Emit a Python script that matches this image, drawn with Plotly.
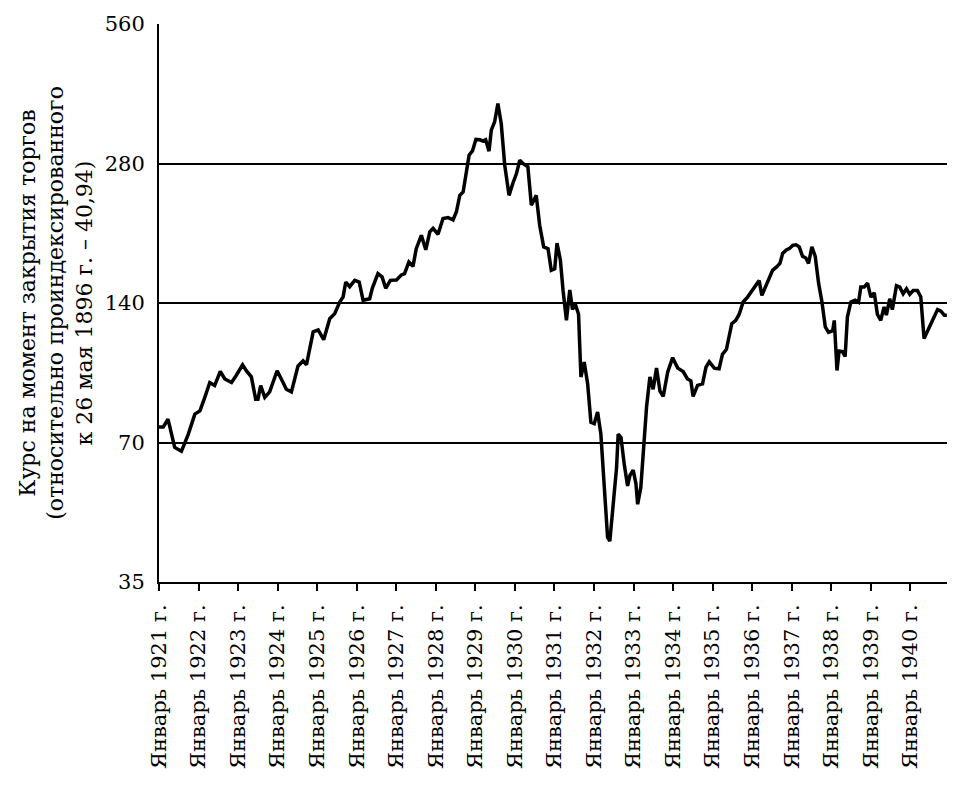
import math
import plotly.graph_objects as go

dates = [
    "1921-01-01", "1921-02-10", "1921-03-25", "1921-05-26", "1921-07-27", "1921-09-28", "1921-11-28",
    "1922-01-14", "1922-02-28", "1922-04-15", "1922-05-30", "1922-07-21", "1922-09-01", "1922-11-02", "1922-12-12",
    "1923-02-12", "1923-03-18", "1923-05-04", "1923-06-13", "1923-07-04", "1923-07-29", "1923-09-05", "1923-10-20", "1923-12-28",
    "1924-02-21", "1924-03-22", "1924-05-08", "1924-07-08", "1924-08-24", "1924-09-24", "1924-11-25",
    "1925-01-10", "1925-03-02", "1925-04-27", "1925-06-12", "1925-07-28", "1925-08-28", "1925-09-22", "1925-10-28", "1925-12-14",
    "1926-01-24", "1926-03-01", "1926-05-01", "1926-05-25", "1926-07-16", "1926-08-23", "1926-09-26", "1926-11-08",
    "1927-01-03", "1927-02-18", "1927-03-19", "1927-04-28", "1927-06-05", "1927-07-05", "1927-08-21", "1927-10-01", "1927-11-07", "1927-12-07",
    "1928-01-22", "1928-03-08", "1928-04-24", "1928-06-09", "1928-07-10", "1928-08-10", "1928-09-10", "1928-10-04", "1928-11-04", "1928-12-05",
    "1929-01-06", "1929-02-12", "1929-03-12", "1929-04-06", "1929-05-07", "1929-05-28", "1929-06-28", "1929-07-28", "1929-08-28", "1929-09-29", "1929-11-08", "1929-12-15",
    "1930-01-15", "1930-02-15", "1930-03-16", "1930-05-01", "1930-06-02", "1930-07-17", "1930-08-18", "1930-09-24", "1930-11-03", "1930-12-03",
    "1931-01-04", "1931-01-25", "1931-02-25", "1931-03-22", "1931-04-22", "1931-05-23", "1931-06-17", "1931-07-11", "1931-08-12", "1931-09-03", "1931-10-03", "1931-11-04", "1931-12-04",
    "1932-01-04", "1932-02-04", "1932-03-05", "1932-04-05", "1932-05-06", "1932-05-27", "1932-06-27", "1932-07-28", "1932-08-12", "1932-09-07", "1932-10-07", "1932-11-07", "1932-11-29", "1932-12-29",
    "1933-01-23", "1933-02-08", "1933-03-09", "1933-04-09", "1933-05-01", "1933-06-01", "1933-07-01", "1933-08-01", "1933-09-02", "1933-10-02", "1933-11-12", "1933-12-28",
    "1934-02-13", "1934-04-04", "1934-05-14", "1934-06-14", "1934-07-05", "1934-08-15", "1934-09-30", "1934-11-01", "1934-12-01",
    "1935-01-17", "1935-03-02", "1935-04-02", "1935-05-09", "1935-06-27", "1935-08-03", "1935-09-04", "1935-10-10", "1935-11-20", "1935-12-20",
    "1936-01-21", "1936-02-21", "1936-03-06", "1936-03-31", "1936-05-07", "1936-06-07", "1936-07-08", "1936-08-14", "1936-09-14", "1936-10-09", "1936-11-09", "1936-12-09",
    "1937-01-10", "1937-02-10", "1937-03-11", "1937-04-11", "1937-05-11", "1937-06-05", "1937-07-06", "1937-08-06", "1937-09-06", "1937-10-07", "1937-11-07", "1937-12-07",
    "1938-01-14", "1938-01-29", "1938-02-23", "1938-03-14", "1938-04-14", "1938-05-09", "1938-05-30", "1938-07-01", "1938-08-10", "1938-09-10", "1938-10-01", "1938-11-01", "1938-12-02",
    "1939-01-02", "1939-02-02", "1939-03-03", "1939-04-03", "1939-05-04", "1939-05-25", "1939-06-25", "1939-07-19", "1939-08-26", "1939-09-26", "1939-10-27", "1939-11-27", "1939-12-27",
    "1940-01-28", "1940-03-07", "1940-04-07", "1940-05-07", "1940-06-08", "1940-07-09", "1940-08-09", "1940-09-09", "1940-10-10", "1940-11-10", "1940-12-04",
]

values = [
    75.6, 75.6, 78.6, 68.3, 67.0, 72.9, 80.6,
    81.9, 87.6, 94.3, 92.9, 99.6, 96.0, 94.3, 97.4,
    103.0, 100.0, 97.0, 86.8, 86.8, 92.9, 87.6, 90.0, 100.0,
    94.3, 91.2, 90.0, 102.4, 105.0, 103.0, 121.3,
    122.5, 116.7, 129.5, 132.8, 140.7, 144.2, 155.4, 151.8, 156.7,
    155.4, 141.9, 143.0, 150.6, 162.0, 159.4, 150.6, 156.7,
    157.0, 161.0, 162.0, 171.7, 168.0, 183.4, 195.9, 182.4, 199.4, 202.8,
    197.0, 213.0, 214.0, 211.6, 220.3, 239.0, 243.0, 262.0, 291.8, 298.0,
    315.6, 315.0, 313.0, 315.0, 297.7, 330.4, 344.5, 377.0, 341.0, 278.0, 239.0, 254.5,
    266.0, 284.6, 280.0, 275.5, 227.6, 239.0, 206.0, 185.0, 183.4, 164.7,
    166.0, 188.5, 173.4, 149.0, 128.4, 149.3, 135.5, 139.7, 132.4, 96.9, 104.4, 93.7, 77.4,
    76.9, 81.5, 73.0, 55.1, 43.7, 42.9, 52.4, 61.8, 73.0, 71.8, 62.8, 56.4, 59.5, 61.0,
    57.0, 51.5, 56.0, 70.6, 83.5, 96.9, 91.2, 101.3, 90.4, 88.0, 99.3, 106.7,
    101.3, 99.6, 96.0, 95.1, 88.0, 93.0, 93.7, 101.8, 104.5,
    101.3, 101.0, 108.5, 111.2, 126.3, 128.4, 132.4, 140.7, 144.2, 147.8,
    151.5, 155.3, 156.5, 145.4, 152.8, 157.8, 164.7, 167.5, 170.4, 179.0, 181.9, 183.4,
    186.4, 187.0, 185.0, 176.5, 175.1, 170.4, 185.0, 176.5, 154.5, 140.7, 124.3, 121.0,
    122.0, 128.4, 100.1, 110.3, 110.0, 107.3, 130.6, 140.7, 141.9, 140.5, 151.5, 151.5, 154.6,
    144.2, 147.3, 132.4, 128.4, 137.3, 131.8, 143.0, 135.5, 152.6, 151.5, 146.6, 150.3, 146.2,
    149.0, 149.0, 144.2, 117.3, 122.0, 126.3, 130.6, 135.5, 134.4, 131.8, 131.8,
]

tick_dates = [f"{y}-01-01" for y in range(1921, 1941)]
tick_labels = [f"Январь {y} г." for y in range(1921, 1941)]
y_ticks = [35, 70, 140, 280, 560]
y_title = "Курс на момент закрытия торгов<br>(относительно проиндексированного<br>к 26 мая 1896 г. – 40,94)"

FONT = "DejaVu Serif"

fig = go.Figure()
fig.add_trace(go.Scatter(
    x=dates, y=values, mode="lines",
    line=dict(color="black", width=3.5),
    hoverinfo="skip", showlegend=False,
))

fig.update_layout(
    width=976, height=786,
    margin=dict(l=159, r=29, t=24, b=204),
    paper_bgcolor="white", plot_bgcolor="white",
    font=dict(family=FONT, size=21, color="black"),
)

fig.update_xaxes(
    range=["1921-01-01", "1940-12-05"],
    tickmode="array", tickvals=tick_dates, ticktext=tick_labels,
    tickangle=-90,
    ticks="outside", ticklen=7, tickwidth=2, tickcolor="black",
    showline=True, linewidth=2, linecolor="black",
    showgrid=False, zeroline=False,
    tickfont=dict(family=FONT, size=21, color="black"),
    ticklabelstandoff=5,
)

fig.update_yaxes(
    type="log",
    range=[math.log10(35), math.log10(560)],
    tickmode="array", tickvals=y_ticks, ticktext=[str(v) for v in y_ticks],
    ticks="",
    showline=True, linewidth=2, linecolor="black",
    showgrid=True, gridcolor="black", gridwidth=2,
    zeroline=False,
    tickfont=dict(family=FONT, size=21, color="black"),
    ticklabelstandoff=8,
    title=dict(text=y_title, font=dict(family=FONT, size=22, color="black"), standoff=6),
)

fig.write_html("out.html")
